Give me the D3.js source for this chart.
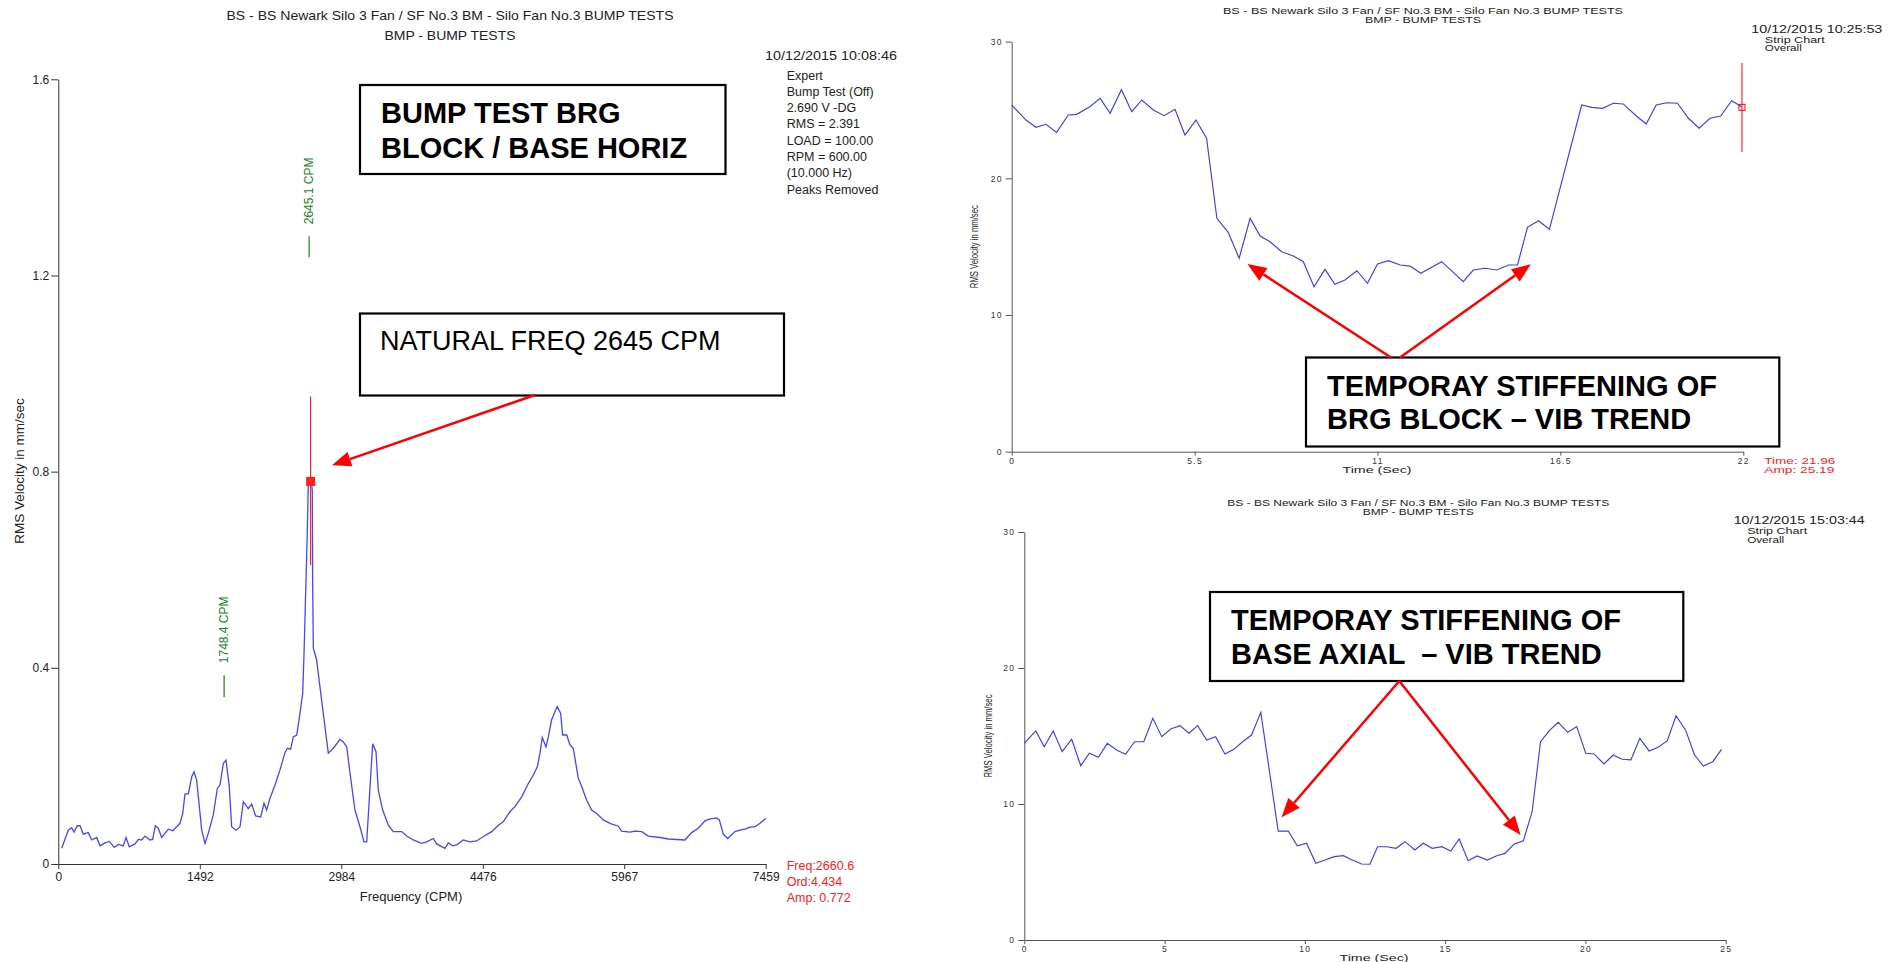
<!DOCTYPE html>
<html>
<head>
<meta charset="utf-8">
<script src="https://cdn.jsdelivr.net/npm/d3@7"></script>
<style>
body { margin: 0; background: #fff; }
svg { display: block; }
text { font-family: Arial, "Liberation Sans", sans-serif; }
</style>
</head>
<body>
<script>
var w = 1901;
var h = 962;

// bump test spectrum (CPM vs RMS velocity)
var spectrumCpm = [36, 105, 141, 166, 200, 229, 264, 316, 352, 405, 440, 492, 538, 590, 633, 685, 714, 749, 809, 844,
   879, 914, 967, 995, 1023, 1054, 1090, 1160, 1206, 1248, 1283, 1312, 1336, 1371, 1407, 1431, 1459, 1512, 1547, 1582,
   1634, 1677, 1705, 1740, 1768, 1803, 1828, 1874, 1916, 1951, 2003, 2039, 2081, 2134, 2169, 2197, 2232, 2285, 2338, 2390,
   2415, 2450, 2478, 2514, 2548, 2577, 2591, 2612, 2626, 2636, 2650, 2668, 2678, 2682, 2689, 2724, 2759, 2794, 2847, 2900,
   2970, 3005, 3041, 3076, 3128, 3181, 3223, 3252, 3287, 3315, 3350, 3374, 3420, 3480, 3532, 3621, 3674, 3743, 3832, 3884,
   3954, 3990, 4077, 4112, 4158, 4201, 4270, 4341, 4411, 4481, 4570, 4640, 4692, 4763, 4815, 4886, 4956, 5008, 5051, 5079,
   5103, 5142, 5167, 5202, 5261, 5297, 5318, 5361, 5395, 5430, 5483, 5519, 5571, 5624, 5677, 5747, 5817, 5905, 5940, 6028,
   6081, 6152, 6221, 6344, 6432, 6608, 6678, 6748, 6819, 6872, 6942, 6970, 7012, 7058, 7135, 7188, 7241, 7293, 7346, 7399,
   7459];
var spectrumAmp = [.032, .069, .074, .065, .078, .078, .061, .064, .049, .054, .037, .043, .046, .034, .040, .037, .054, .035, .041, .050,
   .049, .057, .049, .050, .078, .073, .054, .071, .068, .076, .083, .103, .143, .143, .178, .188, .171, .069, .042, .063,
   .100, .154, .161, .205, .212, .158, .076, .069, .076, .127, .113, .122, .098, .096, .124, .110, .134, .161, .192, .227,
   .236, .234, .259, .263, .307, .348, .429, .579, .681, .776, .785, .780, .762, .579, .440, .416, .361, .307, .226, .236,
   .254, .249, .239, .185, .110, .076, .045, .045, .158, .245, .229, .151, .110, .079, .066, .066, .057, .049, .042, .045,
   .052, .041, .032, .043, .037, .039, .049, .045, .047, .056, .066, .079, .086, .107, .117, .137, .164, .181, .198, .226,
   .258, .239, .259, .294, .321, .307, .263, .263, .243, .236, .175, .158, .130, .110, .103, .090, .083, .077, .067, .065,
   .067, .066, .057, .054, .051, .049, .064, .073, .088, .092, .094, .090, .061, .052, .066, .069, .071, .075, .076, .083,
   .093];
var freqTicks = [0, 1492, 2984, 4476, 5967, 7459];
var ampTicks = [0, 0.4, 0.8, 1.2, 1.6];

// strip chart, bearing block
var brgTime = [0, .43, .73, 1.03, 1.35, 1.70, 1.95, 2.35, 2.66, 2.96, 3.30, 3.61, 3.91, 4.26, 4.58, 4.91, 5.21, 5.54, 5.86, 6.17,
   6.51, 6.84, 7.17, 7.47, 7.77, 8.12, 8.47, 8.77, 9.09, 9.42, 9.72, 10.02, 10.38, 10.70, 11.0, 11.33, 11.68, 11.98, 12.30, 12.93,
   13.58, 13.88, 14.23, 14.59, 14.94, 15.21, 15.51, 15.84, 16.17, 17.14, 17.44, 17.77, 18.09, 18.39, 18.75, 19.08, 19.38, 19.70, 20.02, 20.35,
   20.67, 21.0, 21.32, 21.65, 21.95];
var brgVel = [25.36, 24.26, 23.73, 23.95, 23.36, 24.63, 24.68, 25.24, 25.85, 24.75, 26.48, 24.87, 25.73, 25.0, 24.58, 25.05, 23.17, 24.26, 22.93, 17.07,
   16.05, 14.15, 17.07, 15.78, 15.36, 14.63, 14.32, 13.9, 12.07, 13.34, 12.25, 12.56, 13.24, 12.32, 13.73, 13.97, 13.66, 13.58, 13.05, 13.90,
   12.44, 13.29, 13.42, 13.29, 13.66, 13.66, 16.41, 16.90, 16.27, 25.36, 25.19, 25.12, 25.49, 25.44, 24.63, 23.97, 25.36, 25.53, 25.49, 24.39,
   23.66, 24.39, 24.56, 25.68, 25.24];
var brgTimeTicks = [0, 5.5, 11, 16.5, 22];

// strip chart, base axial
var baseTime = [0, .41, .71, 1.03, 1.35, 1.69, 2.01, 2.32, 2.64, 2.96, 3.29, 3.61, 3.93, 4.26, 4.58, 4.90, 5.22, 5.55, 5.87, 6.18,
   6.50, 6.82, 7.15, 7.47, 7.78, 8.10, 8.43, 9.05, 9.41, 9.73, 10.06, 10.39, 10.72, 11.05, 11.37, 11.69, 12.02, 12.32, 12.59, 12.92,
   13.25, 13.57, 13.92, 14.22, 14.54, 14.88, 15.20, 15.50, 15.82, 16.14, 16.50, 16.84, 17.13, 17.45, 17.79, 18.10, 18.40, 18.71, 19.03, 19.37,
   19.69, 20.01, 20.31, 20.66, 20.99, 21.31, 21.62, 21.94, 22.27, 22.59, 22.92, 23.23, 23.58, 23.89, 24.20, 24.54, 24.85];
var baseVel = [14.46, 15.37, 14.21, 15.37, 13.85, 14.76, 12.82, 13.73, 13.43, 14.46, 13.97, 13.65, 14.58, 14.58, 16.30, 14.95, 15.51, 15.76, 15.20, 15.76,
   14.71, 14.95, 13.68, 14.02, 14.58, 15.07, 16.74, 8.01, 8.01, 6.93, 7.11, 5.64, 5.88, 6.13, 6.20, 5.88, 5.59, 5.57, 6.86, 6.86,
   6.74, 7.23, 6.62, 7.11, 6.74, 6.86, 6.54, 7.43, 5.83, 6.18, 5.88, 6.20, 6.37, 7.04, 7.30, 9.43, 14.58, 15.39, 16.01, 15.27,
   15.69, 13.73, 13.68, 12.94, 13.60, 13.29, 13.24, 14.83, 13.90, 14.17, 14.65, 16.49, 15.39, 13.60, 12.79, 13.11, 14.02];
var baseTimeTicks = [0, 5, 10, 15, 20, 25];
var velTicks = [0, 10, 20, 30];

var titleLines = ['BS - BS Newark Silo 3 Fan / SF No.3 BM - Silo Fan No.3 BUMP TESTS', 'BMP - BUMP TESTS'];
var spectrumInfo = ['Expert', 'Bump Test (Off)', '2.690 V -DG', 'RMS = 2.391', 'LOAD = 100.00', 'RPM = 600.00', '(10.000 Hz)', 'Peaks Removed'];
var stripInfo = ['Strip Chart', 'Overall'];

var svg = d3.select('body')
   .append('svg')
   .attr('width', w)
   .attr('height', h);
svg.append('rect').attr('width', w).attr('height', h).attr('fill', '#fff');

function addText(g, str, x, y, size, opts) {
   opts = opts || {};
   var t = g.append('text')
      .attr('x', x)
      .attr('y', y)
      .attr('font-size', size)
      .attr('fill', opts.fill || '#222')
      .attr('text-anchor', opts.anchor || 'start')
      .style('white-space', 'pre')
      .text(str);
   if (opts.weight) t.attr('font-weight', opts.weight);
   if (opts.len) t.attr('textLength', opts.len).attr('lengthAdjust', 'spacingAndGlyphs');
   if (opts.rotate) t.attr('transform', 'rotate(-90,' + x + ',' + y + ')');
   if (opts.spacing) t.attr('letter-spacing', opts.spacing);
   return t;
}

function arrow(x1, y1, x2, y2) {
   var a = Math.atan2(y2 - y1, x2 - x1);
   var len = 19, hw = 7.5;
   var bx = x2 - len * Math.cos(a), by = y2 - len * Math.sin(a);
   svg.append('line')
      .attr('x1', x1).attr('y1', y1).attr('x2', bx).attr('y2', by)
      .attr('stroke', '#ff0000').attr('stroke-width', 2.5);
   svg.append('polygon')
      .attr('points', [[x2, y2], [bx + hw * Math.sin(a), by - hw * Math.cos(a)], [bx - hw * Math.sin(a), by + hw * Math.cos(a)]].join(' '))
      .attr('fill', '#ff0000');
}

function box(x, y, bw, bh, lines, size, weight, lineGap) {
   svg.append('rect')
      .attr('x', x).attr('y', y).attr('width', bw).attr('height', bh)
      .attr('fill', '#fff').attr('stroke', '#000').attr('stroke-width', 2.2);
   lines.forEach(function(l, i) {
      addText(svg, l, x + 21, y + 38 + i * lineGap, size, { weight: weight, fill: '#000' });
   });
}

// ---------- left: spectrum ----------
var xL = d3.scaleLinear().domain([0, 7459]).range([58.3, 765.7]);
var yL = d3.scaleLinear().domain([0, 1.6]).range([864, 79.3]);

addText(svg, titleLines[0], 450, 20, 13, { anchor: 'middle', len: 447 });
addText(svg, titleLines[1], 450, 40, 13, { anchor: 'middle', len: 131 });
addText(svg, '10/12/2015 10:08:46', 765, 59.5, 13, { len: 132 });
spectrumInfo.forEach(function(s, i) {
   addText(svg, s, 786.7, 79.5 + i * 16.3, 12.5);
});

var gxL = svg.append('g')
   .attr('transform', 'translate(0,864)')
   .call(d3.axisBottom(xL).tickValues(freqTicks).tickSize(5).tickSizeOuter(0).tickPadding(3).tickFormat(d3.format('d')));
var gyL = svg.append('g')
   .attr('transform', 'translate(58.3,0)')
   .call(d3.axisLeft(yL).tickValues(ampTicks).tickSize(7).tickSizeOuter(0).tickPadding(2)
      .tickFormat(function(d) { return d === 0 ? '0' : d3.format('.1f')(d); }));
[gxL, gyL].forEach(function(g) {
   g.selectAll('text').attr('font-size', 12).attr('font-family', 'Arial, "Liberation Sans", sans-serif').attr('fill', '#222');
   g.selectAll('line,path').attr('stroke', '#333');
});

addText(svg, 'Frequency (CPM)', 411, 901, 13, { anchor: 'middle' });
addText(svg, 'RMS Velocity in mm/sec', 24, 471, 13.5, { anchor: 'middle', rotate: true });

// peak labels
var peakLabels = [{ cpm: 1748.4, lo: 0.34, hi: 0.385 }, { cpm: 2645.1, lo: 1.237, hi: 1.28 }];
peakLabels.forEach(function(p) {
   svg.append('line')
      .attr('x1', xL(p.cpm)).attr('x2', xL(p.cpm))
      .attr('y1', yL(p.lo)).attr('y2', yL(p.hi))
      .attr('stroke', '#1f7f1f').attr('stroke-width', 1.2);
   addText(svg, p.cpm.toFixed(1) + ' CPM', xL(p.cpm) + 4, yL(p.hi) - 12, 12, { fill: '#1f7f1f', rotate: true });
});

var spectrum = d3.zip(spectrumCpm, spectrumAmp);
svg.append('path')
   .datum(spectrum)
   .attr('fill', 'none')
   .attr('stroke', '#4646ff')
   .attr('stroke-width', 1.3)
   .attr('d', d3.line().x(function(d) { return xL(d[0]); }).y(function(d) { return yL(d[1]); }));

// cursor
var cursorCpm = 2660.6;
svg.append('line')
   .attr('x1', xL(cursorCpm)).attr('x2', xL(cursorCpm))
   .attr('y1', yL(0.953)).attr('y2', yL(0.609))
   .attr('stroke', '#ff0000').attr('stroke-width', 1);
svg.append('rect')
   .attr('x', xL(cursorCpm) - 4.5).attr('y', yL(0.78) - 4.5)
   .attr('width', 9).attr('height', 9)
   .attr('fill', '#ff2020');
['Freq:2660.6', 'Ord:4.434', 'Amp: 0.772'].forEach(function(s, i) {
   addText(svg, s, 786.7, 870 + i * 15.8, 12.5, { fill: '#ff2020' });
});

box(360, 85, 365.5, 89, ['BUMP TEST BRG', 'BLOCK / BASE HORIZ'], 29, 'bold', 35);
svg.append('rect')
   .attr('x', 360).attr('y', 313.5).attr('width', 424).attr('height', 82)
   .attr('fill', '#fff').attr('stroke', '#000').attr('stroke-width', 2.2);
addText(svg, 'NATURAL FREQ 2645 CPM', 380, 350, 27, { fill: '#000' });
arrow(535, 395, xL(2886), yL(0.813));

// ---------- right: strip charts ----------
function stripChart(cfg) {
   var x = d3.scaleLinear().domain([0, cfg.tmax]).range([cfg.x0, cfg.x1]);
   var y = d3.scaleLinear().domain([0, 30]).range([cfg.y0, cfg.y1]);

   addText(svg, titleLines[0], cfg.tc, cfg.ty, 9, { anchor: 'middle', len: cfg.tw });
   addText(svg, titleLines[1], cfg.tc, cfg.ty + 9, 9, { anchor: 'middle', len: cfg.tw2 });
   addText(svg, cfg.date, cfg.x1 + 8, cfg.ty + 18.5, 10, { len: 131 });
   stripInfo.forEach(function(s, i) {
      addText(svg, s, cfg.x1 + 21.5, cfg.ty + 28.5 + i * 8.5, 9.5, { len: i === 0 ? 60 : 37 });
   });

   var gx = svg.append('g')
      .attr('transform', 'translate(0,' + cfg.y0 + ')')
      .call(d3.axisBottom(x).tickValues(cfg.ticks).tickSize(4).tickSizeOuter(0).tickPadding(2).tickFormat(d3.format('')));
   var gy = svg.append('g')
      .attr('transform', 'translate(' + cfg.x0 + ',0)')
      .call(d3.axisLeft(y).tickValues(velTicks).tickSize(6).tickSizeOuter(0).tickPadding(3));
   [gx, gy].forEach(function(g) {
      g.selectAll('text').attr('font-size', 8.5).attr('letter-spacing', 1.3)
         .attr('font-family', 'Arial, "Liberation Sans", sans-serif').attr('fill', '#333');
      g.selectAll('line,path').attr('stroke', '#555');
   });

   addText(svg, 'Time (Sec)', cfg.xlc, cfg.y0 + 21, 9, { anchor: 'middle', len: 69 });
   addText(svg, 'RMS Velocity in mm/sec', cfg.ylx, (cfg.y0 + cfg.y1) / 2, 10, { anchor: 'middle', rotate: true, len: 83 });

   svg.append('path')
      .datum(d3.zip(cfg.t, cfg.v))
      .attr('fill', 'none')
      .attr('stroke', '#3c3cff')
      .attr('stroke-width', 1.15)
      .attr('d', d3.line().x(function(d) { return x(d[0]); }).y(function(d) { return y(d[1]); }));
   return { x: x, y: y };
}

var brgChart = stripChart({
   x0: 1011.7, x1: 1743.3, y0: 451.7, y1: 41.6, tmax: 22, ticks: brgTimeTicks,
   t: brgTime, v: brgVel, date: '10/12/2015 10:25:53',
   tc: 1423, ty: 14, tw: 400, tw2: 116, xlc: 1377, ylx: 978
});
var baseChart = stripChart({
   x0: 1024.3, x1: 1725.7, y0: 940, y1: 532, tmax: 25, ticks: baseTimeTicks,
   t: baseTime, v: baseVel, date: '10/12/2015 15:03:44',
   tc: 1418.3, ty: 505.5, tw: 382, tw2: 111, xlc: 1374, ylx: 992
});

// cursor on bearing block strip chart
var cursorT = 21.96, cursorV = 25.19;
svg.append('line')
   .attr('x1', brgChart.x(cursorT)).attr('x2', brgChart.x(cursorT))
   .attr('y1', brgChart.y(28.43)).attr('y2', brgChart.y(21.93))
   .attr('stroke', '#ff0000').attr('stroke-width', 1);
svg.append('rect')
   .attr('x', brgChart.x(cursorT) - 3).attr('y', brgChart.y(cursorV) - 3)
   .attr('width', 6).attr('height', 6)
   .attr('fill', 'none').attr('stroke', '#ff0000').attr('stroke-width', 1);
addText(svg, 'Time: 21.96', 1764.3, 464, 8.5, { fill: '#ff2020', len: 71 });
addText(svg, 'Amp: 25.19', 1764.3, 472.5, 8.5, { fill: '#ff2020', len: 70 });

// annotation boxes + arrows
box(1306, 357.5, 473.3, 89, ['TEMPORAY STIFFENING OF', 'BRG BLOCK \u2013 VIB TREND'], 29, 'bold', 33.5);
arrow(1391, 357.5, brgChart.x(7.09), brgChart.y(13.73));
arrow(1400, 357.5, brgChart.x(15.61), brgChart.y(13.71));

box(1210, 592, 473.3, 89, ['TEMPORAY STIFFENING OF', 'BASE AXIAL  \u2013 VIB TREND'], 29, 'bold', 33.5);
arrow(1399.3, 681, baseChart.x(9.17), baseChart.y(9.02));
arrow(1399.3, 681, baseChart.x(17.69), baseChart.y(7.72));
</script>
</body>
</html>
